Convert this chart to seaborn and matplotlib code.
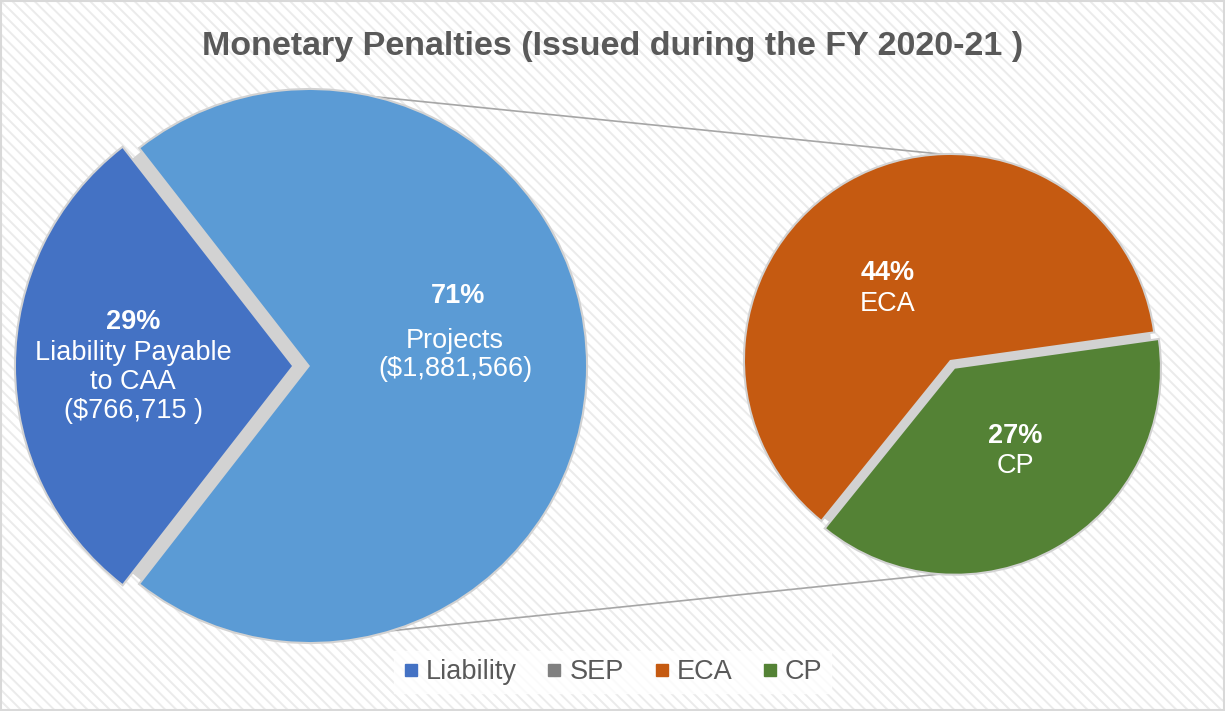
import numpy as np
import matplotlib
matplotlib.use('Agg')
import matplotlib.pyplot as plt
from matplotlib.patches import Rectangle, Circle
from matplotlib.lines import Line2D
import seaborn as sns

# === DATA ===
main_labels = ['Liability', 'Projects']
main_amounts = [766715, 1881566]
sub_labels = ['ECA', 'CP']
sub_pcts = [44, 27]
legend_labels = ['Liability', 'SEP', 'ECA', 'CP']
title = 'Monetary Penalties (Issued during the FY 2020-21 )'

# Styling
sns.set_theme(style='white')
plt.rcParams['font.family'] = ['Liberation Sans', 'DejaVu Sans']
plt.rcParams['hatch.linewidth'] = 1.4

main_colors = sns.color_palette(['#4472C4', '#5B9BD5'])
sub_colors = sns.color_palette(['#C55A11', '#548235'])
legend_colors = sns.color_palette(['#4472C4', '#808080', '#C55A11', '#548235'])
gap_gray = '#D2D2D2'
text_gray = '#595959'

W, H = 1225, 711
fig = plt.figure(figsize=(W / 100, H / 100), dpi=100)
ax = fig.add_axes([0, 0, 1, 1])

# striped background + frame
ax.add_patch(Rectangle((0, 0), W, H, facecolor='white', edgecolor='#EBEBEB',
                       hatch='\\\\\\', linewidth=0, zorder=0))
ax.add_patch(Rectangle((1, 1), W - 2, H - 2, facecolor='none', edgecolor='#D9D9D9',
                       linewidth=1.5, zorder=1))

# === LEFT PIE ===
main_total = sum(main_amounts)
main_frac = [a / main_total for a in main_amounts]
c1 = (310, H - 366)
r1 = 276
start1 = 180 - main_frac[0] * 360 / 2
ax.add_patch(Circle(c1, r1 - 3, facecolor=gap_gray, edgecolor='none', zorder=2.5))
for lw, ec in [(3, gap_gray), (0, 'none')]:
    ax.pie(main_frac, colors=main_colors, startangle=start1, counterclock=True,
           center=c1, radius=r1, explode=[18, 0], frame=True,
           wedgeprops=dict(linewidth=lw, edgecolor=ec, zorder=3))

# === RIGHT PIE ===
c2 = (950, H - 360)
r2 = 205
start2 = 8
sub_frac = [p / sum(sub_pcts) for p in sub_pcts]
ax.add_patch(Circle(c2, r2 - 3, facecolor=gap_gray, edgecolor='none', zorder=2.5))
for lw, ec in [(3, gap_gray), (0, 'none')]:
    ax.pie(sub_frac, colors=sub_colors, startangle=start2, counterclock=True,
           center=c2, radius=r2, explode=[0, 10], frame=True,
           wedgeprops=dict(linewidth=lw, edgecolor=ec, zorder=3))

# connector lines
a_top, a_bot = np.deg2rad(78), np.deg2rad(-74)
ax.plot([c1[0] + r1 * np.cos(a_top), c2[0]], [c1[1] + r1 * np.sin(a_top), c2[1] + r2],
        color='#A6A6A6', lw=1.2, zorder=2)
ax.plot([c1[0] + r1 * np.cos(a_bot), c2[0] + 10], [c1[1] + r1 * np.sin(a_bot), c2[1] - r2 - 7],
        color='#A6A6A6', lw=1.2, zorder=2)

ax.set_xlim(0, W)
ax.set_ylim(0, H)
ax.set_aspect('equal')
ax.axis('off')

# === LABELS ===
fs = 19.5
pct_main = [round(f * 100) for f in main_frac]
ax.text(133, H - 322, f'{pct_main[0]}%', ha='center', va='center', color='white',
        fontsize=fs, fontweight='bold', zorder=5)
ax.text(133, H - 382, 'Liability Payable\nto CAA\n($766,715 )', ha='center', va='center',
        color='white', fontsize=fs, linespacing=1.13, zorder=5)
ax.text(458, H - 296, f'{pct_main[1]}%', ha='center', va='center', color='white',
        fontsize=fs, fontweight='bold', zorder=5)
ax.text(455, H - 355, 'Projects\n($1,881,566)', ha='center', va='center',
        color='white', fontsize=fs, linespacing=1.13, zorder=5)
ax.text(888, H - 273, f'{sub_pcts[0]}%', ha='center', va='center', color='white',
        fontsize=fs, fontweight='bold', zorder=5)
ax.text(888, H - 304, sub_labels[0], ha='center', va='center', color='white',
        fontsize=fs, zorder=5)
ax.text(1015, H - 436, f'{sub_pcts[1]}%', ha='center', va='center', color='white',
        fontsize=fs, fontweight='bold', zorder=5)
ax.text(1015, H - 466, sub_labels[1], ha='center', va='center', color='white',
        fontsize=fs, zorder=5)

# title
ax.text(W / 2, H - 46, title, ha='center', va='center', color=text_gray,
        fontsize=24.5, fontweight='bold', zorder=5)

# legend
handles = [Line2D([], [], marker='s', linestyle='none', markersize=9,
                  markerfacecolor=c, markeredgecolor=c) for c in legend_colors]
leg = ax.legend(handles, legend_labels, loc='center', bbox_to_anchor=(0.5, (H - 672) / H),
                ncol=4, fontsize=fs, frameon=True, handlelength=0.6, handletextpad=0.25,
                columnspacing=1.1, borderpad=0.3, fancybox=False)
leg.get_frame().set_facecolor('white')
leg.get_frame().set_edgecolor('white')
for t in leg.get_texts():
    t.set_color(text_gray)
leg.set_zorder(6)

fig.savefig('out.png', dpi=100)
